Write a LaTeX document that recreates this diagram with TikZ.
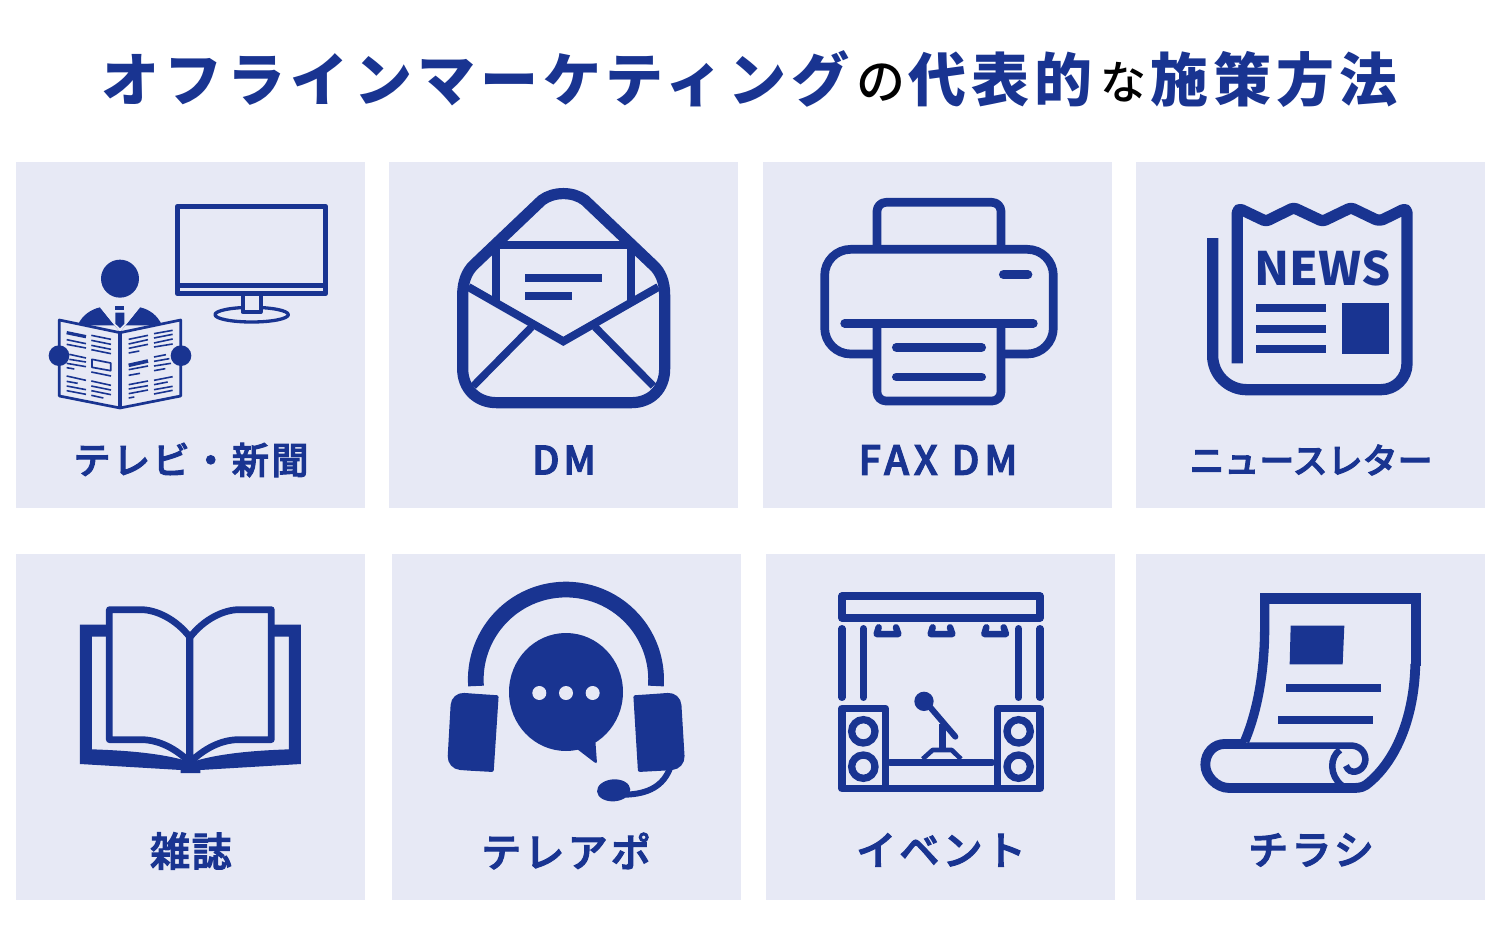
\documentclass[tikz,border=0pt]{standalone}
\usepackage{fontspec}
\usepackage{tikz}
\usetikzlibrary{arrows.meta,positioning,calc}
\newfontfamily\jp{Noto Sans CJK JP}
\newfontfamily\jpm{Noto Sans CJK JP Medium}
\definecolor{navy}{HTML}{193491}
\definecolor{pale}{HTML}{E7E9F5}
\tikzset{
  panel/.style={rectangle,fill=pale,inner sep=0pt,minimum width=349pt,minimum height=346pt,anchor=north west},
  lbl/.style 2 args={text=navy,inner sep=0pt,font=\jpm\fontsize{#1}{#1}\selectfont\addfontfeature{LetterSpace=#2,FakeBold=2.8}},
  ttl/.style={text=navy,inner sep=0pt,anchor=base west,font=\jp\bfseries\fontsize{58}{58}\selectfont\addfontfeature{LetterSpace=9}},
  ttlb/.style={text=black,inner sep=0pt,anchor=base west,font=\jpm\fontsize{#1}{#1}\selectfont},
  tile/.style={x=0.33333pt,y=-0.33333pt},
  ink/.style={draw=navy,line join=round},
  bar/.style={draw=navy,line cap=round}
}
\begin{document}
\begin{tikzpicture}[x=1pt,y=-1pt]
    \useasboundingbox (0,0) rectangle (1500,940);
    \fill[white] (0,0) rectangle (1500,940);

    % Title
    \node[ttl] (title1) at (101,101) {オフラインマーケティング};
    \node[ttlb=49] (title2) at (856,99) {の};
    \node[ttl] (title3) at (908,101) {代表的};
    \node[ttlb=46] (title4) at (1100,99) {な};
    \node[ttl] (title5) at (1150,101) {施策方法};

    % Panels
    \node[panel] (p1) at (16,162) {};
    \node[panel] (p2) at (389,162) {};
    \node[panel] (p3) at (763,162) {};
    \node[panel] (p4) at (1136,162) {};
    \node[panel] (p5) at (16,554) {};
    \node[panel] (p6) at (392,554) {};
    \node[panel] (p7) at (766,554) {};
    \node[panel] (p8) at (1136,554) {};

    % Labels
    \node[lbl={37}{7}] (l1) at (191,460) {テレビ・新聞};
    \node[lbl={39}{10}] (l2) at (564,460) {DM};
    \node[lbl={40}{12}] (l3) at (938,460) {FAX DM};
    \node[lbl={35}{0}] (l4) at (1311,460) {ニュースレター};
    \node[lbl={40}{4}] (l5) at (191,851) {雑誌};
    \node[lbl={40}{8}] (l6) at (566,851) {テレアポ};
    \node[lbl={40}{8}] (l7) at (941,850) {イベント};
    \node[lbl={40}{8}] (l8) at (1311,850) {チラシ};

    % TV and newspaper reader
    \begin{scope}[shift={(16,162)},tile]
      \draw[ink,line width=4.7pt] (484,133) rectangle (929,395);
      \draw[navy,line width=5pt] (484,370) -- (929,370);
      \draw[ink,line width=3.3pt] (707,458) ellipse[x radius=110,y radius=22];
      \fill[pale] (680,402) rectangle (734,448);
      \draw[ink,line width=4pt] (680,402) -- (680,450) -- (734,450) -- (734,402);
      % reader
      \fill[navy] (312,350) circle[radius=57];
      \fill[navy] (185,490) .. controls (198,460) and (225,442) .. (252,436) -- (312,510) -- (372,436) .. controls (400,442) and (425,460) .. (438,490) -- cycle;
      \fill[pale] (252,436) -- (312,510) -- (372,436) -- cycle;
      \fill[navy] (298,433) rectangle (325,445);
      \fill[navy] (298,452) -- (325,452) -- (325,485) -- (312,498) -- (298,485) -- cycle;
      \filldraw[ink,fill=pale,line width=2.7pt] (130,474) -- (312,512) -- (494,474) -- (494,702) -- (312,738) -- (130,702) -- cycle;
      \draw[navy,line width=4pt] (312,510) -- (312,738);
      \fill[navy] (129,581) circle[radius=31];
      \fill[navy] (495,581) circle[radius=31];
      \foreach \xa/\ya/\xb/\yb in {152/533/210/545,152/547/210/558,160/577/210/588,160/592/210/600,152/604/210/614,152/617/175/621,152/642/210/655,152/658/185/664,152/672/210/683,152/686/210/697,
        226/520/285/532,226/535/285/547,226/550/285/562,226/563/285/575,226/630/285/642,226/657/285/670,226/672/285/684,226/686/285/698,226/700/262/708,
        338/532/396/520,338/546/396/533,338/559/396/547,338/573/370/567,338/623/396/612,338/640/372/634,338/668/396/657,338/681/396/671,338/695/396/684,338/708/355/705,
        414/515/470/505,414/528/470/517,414/543/470/531,414/555/470/546,414/585/450/578,414/598/460/590,414/612/465/604,414/626/448/620,414/655/470/644,414/668/455/660,414/683/470/673,414/696/470/685}
        \draw[navy,line width=1.6pt] (\xa,\ya) -- (\xb,\yb);
      \draw[navy,line width=3.3pt] (152,512) -- (210,524);
      \draw[navy,line width=3.6pt] (338,610) -- (396,597);
      \draw[ink,line width=1.7pt] (228,592) -- (284,603) -- (284,626) -- (228,616) -- cycle;
    \end{scope}

    % Envelope
    \begin{scope}[shift={(390,162)},tile]
      \draw[ink,line width=11.2pt] (218,400) .. controls (218,360) and (230,330) .. (250,310) -- (455,115) .. controls (490,88) and (550,88) .. (585,115) -- (790,310) .. controls (812,330) and (824,360) .. (824,400) -- (824,620) .. controls (824,680) and (784,722) .. (724,722) -- (320,722) .. controls (260,722) and (218,680) .. (218,620) -- cycle;
      \draw[navy,line width=8pt] (318,420) -- (318,248) -- (722,248) -- (722,420);
      \draw[navy,line width=8pt,line join=miter] (235,375) -- (520,538) -- (805,375);
      \draw[navy,line width=7.5pt] (425,495) -- (250,672);
      \draw[navy,line width=7.5pt] (615,495) -- (790,672);
      \draw[navy,line width=7.7pt] (406,348) -- (635,348);
      \draw[navy,line width=7.7pt] (406,402) -- (545,402);
    \end{scope}

    % Printer
    \begin{scope}[shift={(764,162)},tile]
      \draw[ink,line width=8.7pt,rounded corners=9pt] (339,262) -- (339,121) -- (711,121) -- (711,262);
      \draw[ink,line width=8.7pt,rounded corners=26pt] (339,576) -- (182,576) -- (182,262) -- (868,262) -- (868,576) -- (711,576);
      \draw[ink,line width=8.7pt,rounded corners=9pt] (339,484) -- (339,717) -- (711,717) -- (711,484);
      \draw[bar,line width=8.7pt] (242,484) -- (808,484);
      \draw[bar,line width=8.7pt] (397,556) -- (653,556);
      \draw[bar,line width=8.7pt] (397,645) -- (653,645);
      \draw[bar,line width=8.7pt] (718,338) -- (792,338);
    \end{scope}

    % Newsletter
    \begin{scope}[shift={(1136,162)},tile]
      \draw[ink,line width=11.3pt] (230,228) [rounded corners=34pt] -- (230,683) [rounded corners=26pt] -- (813,683) [rounded corners=5pt] -- (813,137) -- (730,178) [rounded corners=3pt] -- (645,137) -- (560,178) -- (473,137) -- (390,178) [rounded corners=5pt] -- (304,137) [sharp corners] -- (304,604);
      \node[text=navy,inner sep=0pt,font=\jp\bfseries\fontsize{46}{46}\selectfont] (newsword) at (560,320) {NEWS};
      \foreach \yy in {438,500,562} \draw[navy,line width=7.7pt] (361,\yy) -- (569,\yy);
      \fill[navy] (618,424) rectangle (760,576);
    \end{scope}

    % Magazine
    \begin{scope}[shift={(16,554)},tile]
      \fill[navy] (192,212) -- (280,212) -- (280,248) -- (228,248) -- (228,586) .. controls (350,590) and (440,600) .. (510,620) -- (540,620) .. controls (610,600) and (700,590) .. (819,586) -- (819,248) -- (770,248) -- (770,212) -- (855,212) -- (855,630) -- (553,648) -- (553,657) -- (494,657) -- (494,648) -- (192,630) -- cycle;
      \draw[ink,fill=pale,line width=6.7pt] (522,250) .. controls (480,195) and (420,167) .. (375,167) -- (280,167) -- (280,557) -- (375,557) .. controls (430,557) and (480,585) .. (522,625) -- cycle;
      \draw[ink,fill=pale,line width=6.7pt] (522,250) .. controls (564,195) and (624,167) .. (669,167) -- (766,167) -- (766,557) -- (669,557) .. controls (614,557) and (564,585) .. (522,625) -- cycle;
      \draw[navy,line width=7pt] (522,250) -- (522,630);
    \end{scope}

    % Headset
    \begin{scope}[shift={(392,554)},tile]
      \draw[navy,line width=15.7pt] (252,396) arc[start angle=176,end angle=364,radius=270.5];
      \fill[navy,rounded corners=2pt] (320,424) -- (305,654) -- (232,650) [rounded corners=13pt] -- (165,645) -- (178,414) [rounded corners=2pt] -- (260,420) -- cycle;
      \fill[navy,rounded corners=2pt] (724,424) -- (738,654) -- (812,650) [rounded corners=13pt] -- (880,645) -- (866,414) [rounded corners=2pt] -- (784,420) -- cycle;
      \draw[navy,line width=6pt] (835,640) .. controls (815,695) and (770,720) .. (700,722);
      \fill[navy,rotate around={4:(665,709)}] (665,709) ellipse[x radius=50,y radius=33];
      \fill[navy] (522,414) ellipse[x radius=171,y radius=177];
      \fill[navy,rounded corners=1pt] (555,585) -- (610,627) -- (615,627) -- (610,560) -- cycle;
      \foreach \xx in {442,522,602} \fill[pale] (\xx,417) circle[radius=21];
    \end{scope}

    % Stage
    \begin{scope}[shift={(766,554)},tile]
      \draw[ink,line width=7.3pt] (228,126) rectangle (822,192);
      \foreach \xx in {228,292,758,822} \draw[bar,line width=7.3pt] (\xx,224) -- (\xx,430);
      \foreach \xx in {0,162,323}
        \draw[ink,line cap=round,line width=6.5pt] (\xx+338,220) -- (\xx+332,240) -- (\xx+397,240) -- (\xx+390,220);
      \draw[ink,line width=7.3pt] (228,463) rectangle (358,704);
      \draw[ink,line width=7.3pt] (694,463) rectangle (822,704);
      \draw[navy,line width=7.3pt] (358,704) -- (694,704);
      \foreach \xx/\yy in {292/532,292/638,758/532,758/638}
        \draw[navy,line width=7.3pt] (\xx,\yy) circle[radius=35];
      \draw[bar,line width=7.3pt] (372,625) -- (678,625);
      \fill[navy] (474,442) circle[radius=29];
      \draw[bar,line width=6pt] (480,445) -- (568,548);
      \draw[navy,line width=6.5pt] (530,510) -- (530,590);
      \draw[ink,line width=4.7pt] (470,615) -- (500,588) -- (557,588) -- (585,615);
    \end{scope}

    % Flyer
    \begin{scope}[shift={(1136,554)},tile]
      \fill[navy] (372,118) rectangle (855,149);
      \fill[navy] (824,149) rectangle (855,335);
      \draw[navy,line width=9.3pt] (386,118) -- (386,220) .. controls (386,350) and (365,470) .. (326,562);
      \draw[navy,line width=9.8pt] (838,330) .. controls (835,480) and (785,620) .. (690,693) .. controls (675,703) and (660,702) .. (640,702) -- (280,702) .. controls (240,702) and (208,665) .. (208,632) .. controls (208,595) and (235,570) .. (265,570) -- (330,570);
      \draw[navy,line width=6.5pt] (330,575) -- (650,575) .. controls (680,578) and (692,605) .. (687,625) .. controls (680,655) and (640,665) .. (630,635);
      \draw[navy,line width=6.5pt] (612,588) .. controls (580,610) and (580,665) .. (618,695);
      \fill[navy] (464,215) -- (625,215) -- (620,331) -- (461,331) -- cycle;
      \draw[navy,line width=8pt] (450,403) -- (736,403);
      \draw[navy,line width=8pt] (426,497) -- (711,497);
    \end{scope}
\end{tikzpicture}
\end{document}
